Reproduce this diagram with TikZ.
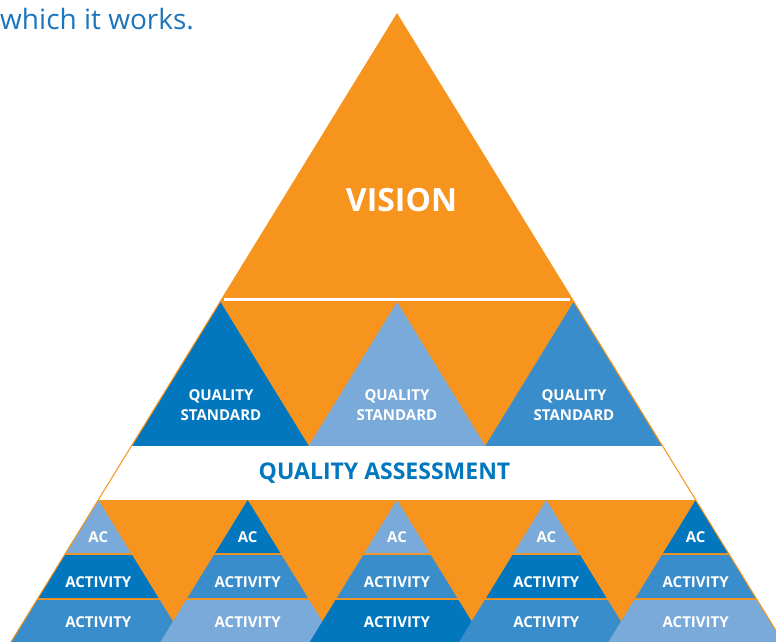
\documentclass[tikz,border=0pt]{standalone}
\usepackage{fontspec}
\setmainfont{Open Sans}
\definecolor{vorange}{HTML}{F7941E}
\definecolor{bdark}{HTML}{0277BE}
\definecolor{bmed}{HTML}{3A8DCB}
\definecolor{blight}{HTML}{7AAAD9}
\definecolor{tblue}{HTML}{1D75BB}
\tikzset{
  lbl/.style={text=white, font=\bfseries\fontsize{15}{18}\selectfont, inner sep=0pt, align=center},
  qslbl/.style={text=white, font=\bfseries\fontsize{15}{20}\selectfont, inner sep=0pt, align=center},
}
\begin{document}
\begin{tikzpicture}[x=1pt,y=-1pt]
\useasboundingbox (0,0) rectangle (776,642);
\clip (0,0) rectangle (776,642);
% big triangle
\fill[vorange] (397,14) -- (806.4,680) -- (-12.4,680) -- cycle;
% white separator under vision
\draw[white, line width=3.5pt] (224,299.5) -- (570,299.5);
% quality standard triangles
\fill[bdark]  (220.5,302) -- (308.8,446) -- (132.2,446) -- cycle;
\fill[blight] (397,302)   -- (485.3,446) -- (308.7,446) -- cycle;
\fill[bmed]   (573.5,302) -- (661.8,446) -- (485.2,446) -- cycle;
% white band
\begin{scope}
  \clip (397,14) -- (806.4,680) -- (-12.4,680) -- cycle;
  \fill[white] (0,446) rectangle (776,500);
\end{scope}
% small pyramids
\foreach \p/\ca/\cb/\cc [count=\i] in {98.3/blight/bdark/bmed, 247.7/bdark/bmed/blight, 397/blight/bmed/bdark, 546.3/blight/bdark/bmed, 695.7/bdark/bmed/blight}{
  \fill[\ca] (\p,500) -- (\p+32.6,553) -- (\p-32.6,553) -- cycle;
  \fill[\cb] (\p-33.8,555) -- (\p+33.8,555) -- (\p+60.2,598) -- (\p-60.2,598) -- cycle;
  \fill[\cc] (\p-61.5,600) -- (\p+61.5,600) -- (\p+110.6,680) -- (\p-110.6,680) -- cycle;
  \node[lbl] (ac\i) at (\p,537) {AC};
  \node[lbl] (acta\i) at (\p,582.5) {ACTIVITY};
  \node[lbl] (actb\i) at (\p,622) {ACTIVITY};
}
% outline
\draw[vorange, line width=1pt] (397,14) -- (806.4,680) -- (-12.4,680) -- cycle;
% texts
\node[text=white, font=\bfseries\fontsize{32}{32}\selectfont, inner sep=0pt] (vision) at (401.5,200.5) {VISION};
\node[qslbl] (qs1) at (221,405.5) {QUALITY\\STANDARD};
\node[qslbl] (qs2) at (397,405.5) {QUALITY\\STANDARD};
\node[qslbl] (qs3) at (574,405.5) {QUALITY\\STANDARD};
\node[text=bdark, font=\bfseries\fontsize{23}{23}\selectfont, inner sep=0pt] (qa) at (384.5,473.5) {QUALITY ASSESSMENT};
\node[text=tblue, font=\fontsize{28}{28}\selectfont, inner sep=0pt, anchor=base west] (cap) at (0,30) {which it works.};
\end{tikzpicture}
\end{document}
